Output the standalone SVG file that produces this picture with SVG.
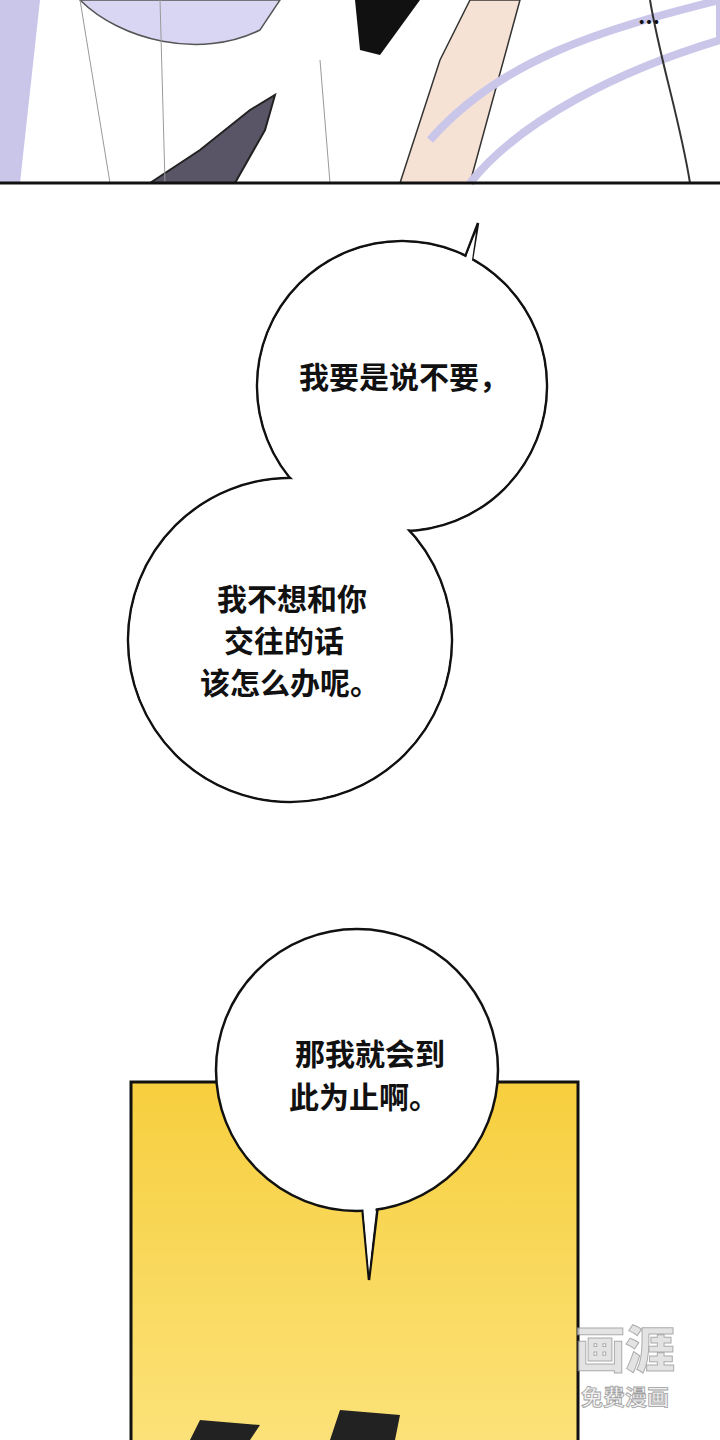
<svg xmlns="http://www.w3.org/2000/svg" width="720" height="1440" viewBox="0 0 720 1440">
<defs>
<style>
.t{font-family:"Noto Sans CJK SC","Noto Sans",sans-serif;font-size:30px;font-weight:700;fill:#111;text-anchor:middle}
.b{fill:#fff;stroke:#111;stroke-width:2.5}
</style>
<linearGradient id="y" x1="0" y1="0" x2="0" y2="1"><stop offset="0" stop-color="#f7cf3e"/><stop offset="1" stop-color="#fbe27a"/></linearGradient>
</defs>
<rect width="720" height="1440" fill="#fff"/>
<g id="top-panel">
<path d="M0 0H40L20 183H0Z" fill="#c9c6ea"/>
<path d="M80 0C120 40 200 60 260 30L280 0Z" fill="#d8d6f2" stroke="#555" stroke-width="1.5"/>
<path d="M355 0L420 0L380 55L360 50Z" fill="#111"/>
<path d="M150 183L200 150L250 110L275 95L265 130L235 183Z" fill="#5a5566" stroke="#222" stroke-width="2"/>
<path d="M400 183L440 60L470 0L520 0L470 183Z" fill="#f6e2d4" stroke="#333" stroke-width="1.5"/>
<path d="M430 140C500 60 600 30 720 0V40C620 70 520 120 470 183" fill="none" stroke="#c9c6ea" stroke-width="8"/>
<path d="M650 0C660 60 680 120 690 183" fill="none" stroke="#333" stroke-width="2"/>
<path d="M80 0L110 183M160 0L165 183M320 60L330 183" fill="none" stroke="#999" stroke-width="1"/>
<text x="638" y="30" style="font-family:'Noto Sans CJK SC',sans-serif;font-size:22px;font-weight:900;fill:#111">…</text>
<line x1="0" y1="183" x2="720" y2="183" stroke="#111" stroke-width="3"/>
</g>
<g id="bubble1">
<path d="M462 265L478 223L470 272Z" class="b"/>
<circle cx="402" cy="386" r="145" class="b"/>
<circle cx="290" cy="640" r="162" class="b"/>
<circle cx="402" cy="386" r="143.5" fill="#fff"/>
<circle cx="290" cy="640" r="160.5" fill="#fff"/>
<path d="M462 268L476 232L470 274Z" fill="#fff"/>
<text class="t" x="404" y="388">我要是说不要，</text>
<text class="t" x="292" y="610">我不想和你</text>
<text class="t" x="284" y="652">交往的话</text>
<text class="t" x="290" y="694">该怎么办呢。</text>
</g>
<g id="yellow-panel">
<rect x="131" y="1082" width="447" height="370" fill="url(#y)" stroke="#111" stroke-width="3"/>
<path d="M190 1440L200 1420L260 1425L250 1440Z" fill="#222"/>
<path d="M330 1440L340 1410L400 1415L395 1440Z" fill="#222"/>
</g>
<g id="bubble2">
<path d="M362 1205L369 1280L378 1205Z" class="b"/>
<circle cx="357" cy="1070" r="141" class="b"/>
<path d="M363 1205L369 1272L376 1205Z" fill="#fff"/>
<text class="t" x="370" y="1065">那我就会到</text>
<text class="t" x="364" y="1108">此为止啊。</text>
</g>
<g id="watermark" opacity="0.8">
<text x="625" y="1368" style="font-family:'Noto Sans CJK SC',sans-serif;font-size:50px;font-weight:900;fill:#ddd;stroke:#999;stroke-width:1;text-anchor:middle">画涯</text>
<text x="625" y="1405" style="font-family:'Noto Sans CJK SC',sans-serif;font-size:22px;font-weight:700;fill:#eee;stroke:#888;stroke-width:0.8;text-anchor:middle">免费漫画</text>
</g>
</svg>
